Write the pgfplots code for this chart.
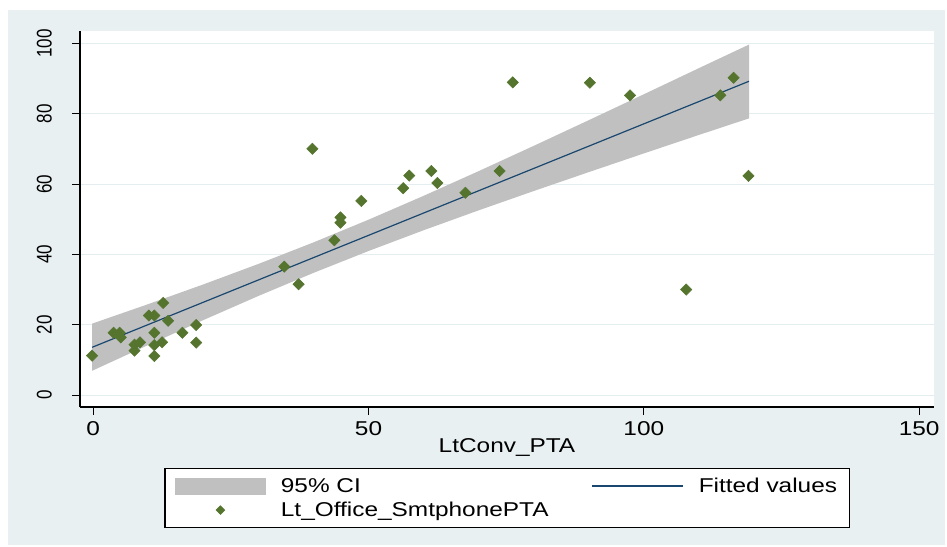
\documentclass[border=0pt]{standalone}
\usepackage{fontspec}
\setmainfont{Liberation Sans}[FakeStretch=1.22]
\newfontfamily\yfont{Liberation Sans}
\usepackage{pgfplots}
\pgfplotsset{compat=1.18}
\definecolor{bgc}{RGB}{232,240,242}
\definecolor{gridc}{RGB}{228,238,240}
\definecolor{cigray}{RGB}{192,192,192}
\definecolor{fitnavy}{RGB}{26,71,111}
\definecolor{ptgreen}{RGB}{85,117,47}
\begin{document}
\begin{tikzpicture}
\useasboundingbox (0,0) rectangle (947bp,547bp);
\fill[white] (0,0) rectangle (947bp,547bp);
\fill[bgc] (8bp,2bp) rectangle (945bp,537bp);
\begin{axis}[
  at={(80bp,140bp)}, anchor=south west,
  scale only axis, width=854bp, height=376bp,
  xmin=-2.4, xmax=152.7, ymin=-3.4, ymax=103.5,
  axis background/.style={fill=white},
  axis lines=left,
  axis line style={-, line width=1.2bp, black},
  xtick={0,50,100,150}, ytick={0,20,40,60,80,100},
  tick align=outside,
  major tick length=8bp,
  tick style={black, line width=1bp},
  ymajorgrids, grid style={gridc, line width=1bp},
  /pgf/number format/assume math mode=true,
  xticklabel style={font=\fontsize{20bp}{22bp}\selectfont},
  xticklabel shift=3bp,
  yticklabel style={font=\yfont\fontsize{17bp}{19bp}\selectfont, xshift=-20bp, rotate=90, anchor=south, inner sep=0pt, yscale=1.25},
  xlabel={LtConv\_PTA},
  xlabel style={font=\fontsize{20bp}{22bp}\selectfont, at={(axis description cs:0.5,-0.1223)}, anchor=base},
  legend columns=2,
  legend cell align=left,
  legend style={at={(axis description cs:0.5,-0.1622)}, anchor=north,
    draw=black, line width=1.2bp, fill=white,
    font=\fontsize{20bp}{22bp}\selectfont,
    inner xsep=10bp, inner ysep=7.5bp,
    nodes={inner sep=2bp},
    row sep=4bp,
    /tikz/every odd column/.append style={column sep=13bp},
    /tikz/every even column/.append style={column sep=41bp}},
]
\addplot[fill=cigray, draw=none,
  legend image code/.code={\fill[cigray] (0bp,-8.5bp) rectangle (91bp,8.5bp);}]
  coordinates {
  (-0.2,20.3) (10,25.85) (20,31.45) (30,37.27) (40,43.39) (50,49.85) (60,56.63)
  (70,63.65) (80,70.84) (90,78.14) (100,85.51) (110,92.93) (119.1,99.64)
  (119.1,78.66) (110,73.95) (100,68.69) (90,63.38) (80,58.0) (70,52.51)
  (60,46.85) (50,40.95) (40,34.73) (30,28.17) (20,21.31) (10,14.23) (-0.2,6.9)
  } -- cycle;
\addlegendentry{95\% CI}
\addplot[fitnavy, line width=1.2bp, mark=none,
  legend image code/.code={\draw[fitnavy, line width=1.2bp] (0bp,0bp) -- (91bp,0bp);}]
  coordinates {
  (-0.2,13.57) (10,20.04) (20,26.38) (30,32.72) (40,39.06) (50,45.4) (60,51.74)
  (70,58.08) (80,64.42) (90,70.76) (100,77.1) (110,83.44) (119.1,89.21)
  };
\addlegendentry{Fitted values}
\addplot[only marks, mark=square*, mark size=4bp,
  mark options={rotate=45, fill=ptgreen, draw=ptgreen, line width=0.5bp},
  legend image code/.code={\draw[mark=square*, mark size=2.8bp, mark options={rotate=45, fill=ptgreen, draw=ptgreen}] plot coordinates {(45.5bp,0bp)};}]
  coordinates {
  (-0.2,11.2) (3.7,17.7) (4.8,17.7) (5.0,16.4) (7.5,14.3) (7.5,12.6) (8.5,15.0)
  (10.1,22.6) (11.1,22.6) (12.7,26.2) (13.6,21.1) (11.1,17.7) (11.1,14.2)
  (11.1,11.1) (12.5,15.0) (16.2,17.7) (18.7,19.9) (18.7,14.9)
  (34.7,36.5) (37.3,31.5) (39.8,70.0) (43.8,44.0) (44.9,50.5) (44.9,49.0)
  (48.7,55.2) (56.3,58.8) (57.4,62.4) (61.4,63.7) (62.5,60.3) (67.6,57.5)
  (73.8,63.7) (76.2,88.9) (90.2,88.8) (97.5,85.2) (107.7,30.0) (113.9,85.2)
  (116.3,90.2) (119.0,62.3)
  };
\addlegendentry{Lt\_Office\_SmtphonePTA}
\end{axis}
\end{tikzpicture}
\end{document}
